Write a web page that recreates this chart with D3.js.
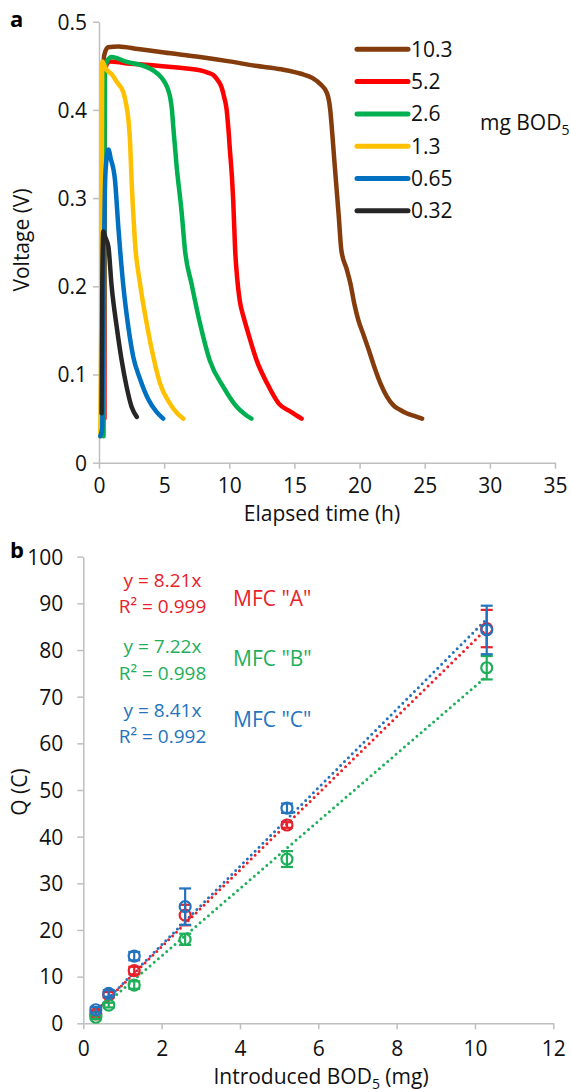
<!DOCTYPE html>
<html><head><meta charset="utf-8">
<script src="https://cdn.jsdelivr.net/npm/d3@7"></script>
<style>body{margin:0;background:#fff} svg{display:block} text{font-family:"Open Sans",sans-serif}</style>
</head><body>
<svg id="c" width="571" height="1092"></svg>
<script>
// ---------- Panel a data: voltage curves [time h, voltage V] ----------
const seriesNames = ["10.3", "5.2", "2.6", "1.3", "0.65", "0.32"];
const seriesColors = ["#843C0C", "#FF0000", "#00B050", "#FFC000", "#0070C0", "#262626"];
const curve_10_3 = [[0.3,0.10],[0.32,0.44],[0.4,0.462],[0.7,0.471],[1.5,0.472],[3,0.469],[5,0.465],[7.75,0.460],[10,0.455],[12,0.45],[14,0.446],[15.5,0.441],[16.4,0.436],[17.0,0.429],[17.5,0.419],[17.75,0.40],[17.9,0.374],[18.05,0.345],[18.2,0.317],[18.4,0.28],[18.6,0.241],[19.0,0.22],[19.3,0.203],[19.6,0.18],[19.9,0.162],[20.3,0.145],[20.7,0.128],[21.1,0.11],[21.6,0.09],[22.1,0.075],[22.6,0.065],[23.1,0.06],[23.6,0.056],[24.2,0.053],[24.8,0.05]];
const curve_5_2 = [[0.42,0.05],[0.45,0.44],[0.6,0.452],[0.84,0.455],[2,0.453],[3.9,0.451],[6,0.448],[7.75,0.445],[8.4,0.442],[8.77,0.4396],[9.1,0.434],[9.4,0.426],[9.6,0.415],[9.8,0.40],[9.95,0.375],[10.05,0.354],[10.2,0.325],[10.3,0.298],[10.45,0.241],[10.6,0.21],[10.8,0.184],[11.1,0.165],[11.45,0.147],[12.1,0.116],[12.9,0.09],[13.8,0.067],[14.7,0.058],[15.55,0.05]];
const curve_2_6 = [[0.35,0.03],[0.4,0.2],[0.45,0.44],[0.6,0.455],[0.97,0.46],[2,0.455],[3.9,0.447],[4.5,0.441],[4.93,0.434],[5.25,0.425],[5.45,0.415],[5.6,0.40],[5.7,0.381],[5.96,0.336],[6.35,0.283],[6.6,0.241],[7.1,0.203],[7.75,0.158],[8.5,0.116],[9.54,0.086],[10.57,0.0635],[11.2,0.055],[11.7,0.05]];
const curve_1_3 = [[0.1,0.03],[0.2,0.2],[0.25,0.455],[0.5,0.447],[1.0,0.44],[1.4,0.431],[1.87,0.42],[2.1,0.405],[2.25,0.39],[2.38,0.365],[2.5,0.32],[2.6,0.29],[2.76,0.25],[3.15,0.203],[3.66,0.158],[4.17,0.12],[4.68,0.09],[5.45,0.067],[6.0,0.056],[6.47,0.05]];
const curve_0_65 = [[0.1,0.03],[0.25,0.04],[0.35,0.2],[0.5,0.33],[0.72,0.355],[0.9,0.345],[1.23,0.32],[1.48,0.268],[1.6,0.245],[1.87,0.2],[2.25,0.154],[2.63,0.12],[3.15,0.095],[3.78,0.072],[4.4,0.058],[4.93,0.05]];
const curve_0_32 = [[0.2,0.056],[0.25,0.2],[0.33,0.262],[0.5,0.255],[0.72,0.245],[0.97,0.2],[1.36,0.154],[1.74,0.116],[2.12,0.086],[2.5,0.0635],[2.9,0.052]];
const curvesA = [curve_10_3, curve_5_2, curve_2_6, curve_1_3, curve_0_65, curve_0_32];
const timeTicks = [0,5,10,15,20,25,30,35];
const voltTicks = [0,0.1,0.2,0.3,0.4,0.5];

// ---------- Panel b data ----------
const bod = [0.32, 0.65, 1.3, 2.6, 5.2, 10.3];
const qA = [2.0, 6.1, 11.3, 23.2, 42.5, 84.6];
const qB = [1.3, 3.9, 8.2, 18.0, 35.2, 76.2];
const qC = [2.9, 6.4, 14.4, 25.0, 46.1, 84.3];
const errA = [0.6, 0.6, 0.8, 2.2, 0.6, 4.0];
const errB = [0.4, 0.5, 0.8, 1.2, 1.7, 2.5];
const errC = [0.6, 0.7, 0.9, 3.9, 1.0, 5.2];
const slopes = [8.21, 7.22, 8.41];
const r2 = ["0.999", "0.998", "0.992"];
const mfcNames = ['MFC "A"', 'MFC "B"', 'MFC "C"'];
const mfcColors = ["#E8212A", "#1FAF5A", "#2473BE"];
const bodTicks = [0,2,4,6,8,10,12];
const qTicks = [0,10,20,30,40,50,60,70,80,90,100];

const svg = d3.select("#c");
const AX = "#BFBFBF", FS = 21, FE = 19;

function styleAxis(g){
  g.select(".domain").attr("stroke", AX).attr("stroke-width", 1.5);
  g.selectAll(".tick line").attr("stroke", AX).attr("stroke-width", 1.5);
  g.selectAll(".tick text").attr("fill", "#111").style("font-size", FS + "px").style("font-family", '"Open Sans",sans-serif');
}

// ================= Panel a =================
const xA = d3.scaleLinear([0, 35], [99, 555]);
const yA = d3.scaleLinear([0, 0.5], [462.7, 21.7]);

const gxA = svg.append("g").attr("transform", `translate(0,${yA(0)})`)
  .call(d3.axisBottom(xA).tickValues(timeTicks).tickSize(6).tickSizeOuter(0).tickFormat(d3.format("d")));
styleAxis(gxA);
gxA.selectAll(".tick text").attr("y", 23).attr("dy", "0.35em");

const gyA = svg.append("g").attr("transform", `translate(${xA(0)},0)`)
  .call(d3.axisLeft(yA).tickValues(voltTicks).tickSize(6).tickSizeOuter(0).tickFormat(d => d === 0 ? "0" : d3.format(".1f")(d)));
styleAxis(gyA);
gyA.selectAll(".tick text").attr("x", -12).attr("dy", "0.35em");

const lineA = d3.line().x(d => xA(d[0])).y(d => yA(d[1])).curve(d3.curveMonotoneX);
svg.append("g").selectAll("path").data(curvesA).join("path")
  .attr("d", lineA).attr("fill", "none")
  .attr("stroke", (d, i) => seriesColors[i]).attr("stroke-width", 4.5)
  .attr("stroke-linecap", "round").attr("stroke-linejoin", "round");

// legend
const leg = svg.append("g");
seriesNames.forEach((n, i) => {
  const yy = 49.3 + i * 32.3;
  leg.append("line").attr("x1", 357).attr("x2", 408).attr("y1", yy).attr("y2", yy)
    .attr("stroke", seriesColors[i]).attr("stroke-width", 5).attr("stroke-linecap", "round");
  leg.append("text").attr("x", 411).attr("y", yy).attr("dy", "0.35em")
    .style("font-size", FS + "px").attr("fill", "#111").text(n);
});
const mg = svg.append("text").attr("x", 480).attr("y", 123).attr("dy", "0.35em").style("font-size", FS + "px").attr("fill", "#111");
mg.append("tspan").text("mg BOD");
mg.append("tspan").text("5").style("font-size", "14px").attr("dy", 5);

svg.append("text").attr("transform", "translate(22,240) rotate(-90)").attr("text-anchor", "middle").attr("dy", "0.35em")
  .style("font-size", FS + "px").attr("fill", "#111").text("Voltage (V)");
svg.append("text").attr("x", 322).attr("y", 514).attr("text-anchor", "middle").attr("dy", "0.35em")
  .style("font-size", FS + "px").attr("fill", "#111").text("Elapsed time (h)");
svg.append("text").attr("x", 10).attr("y", 19).attr("dy", "0.35em").style("font-size", "22px").style("font-weight", "bold").attr("fill", "#000").text("a");

// ================= Panel b =================
const xB = d3.scaleLinear([0, 12], [83.3, 553.3]);
const yB = d3.scaleLinear([0, 100], [1023.3, 556.7]);

const gxB = svg.append("g").attr("transform", `translate(0,${yB(0)})`)
  .call(d3.axisBottom(xB).tickValues(bodTicks).tickSize(6).tickSizeOuter(0).tickFormat(d3.format("d")));
styleAxis(gxB);
gxB.selectAll(".tick text").attr("y", 25).attr("dy", "0.35em");

const gyB = svg.append("g").attr("transform", `translate(${xB(0)},0)`)
  .call(d3.axisLeft(yB).tickValues(qTicks).tickSize(6).tickSizeOuter(0).tickFormat(d3.format("d")));
styleAxis(gyB);
gyB.selectAll(".tick text").attr("x", -20).attr("dy", "0.35em");

const qSeries = [qA, qB, qC];
const eSeries = [errA, errB, errC];

// trend lines (dotted)
const trendOrder = [1, 2, 0];
trendOrder.forEach(k => {
  const x0 = d3.min(bod), x1 = d3.max(bod);
  svg.append("line").attr("x1", xB(x0)).attr("y1", yB(slopes[k] * x0)).attr("x2", xB(x1)).attr("y2", yB(slopes[k] * x1))
    .attr("stroke", mfcColors[k]).attr("stroke-width", 3).attr("stroke-linecap", "round")
    .attr("stroke-dasharray", "0 5.5").attr("stroke-dashoffset", k === 0 ? 2.7 : 0);
});

// points + error bars
[0, 1, 2].forEach(k => {
  const g = svg.append("g").attr("stroke", mfcColors[k]).attr("fill", "none").attr("stroke-width", 2.2);
  bod.forEach((b, i) => {
    const cx = xB(b), v = qSeries[k][i], e = eSeries[k][i];
    g.append("line").attr("x1", cx).attr("x2", cx).attr("y1", yB(v - e)).attr("y2", yB(v + e));
    g.append("line").attr("x1", cx - 6).attr("x2", cx + 6).attr("y1", yB(v - e)).attr("y2", yB(v - e));
    g.append("line").attr("x1", cx - 6).attr("x2", cx + 6).attr("y1", yB(v + e)).attr("y2", yB(v + e));
    g.append("circle").attr("cx", cx).attr("cy", yB(v)).attr("r", 5.5);
  });
});

// equations
const eqY = [[580, 606.5], [646.5, 673], [710, 736.5]];
const mfcY = [598.3, 658.3, 720];
[0, 1, 2].forEach(k => {
  svg.append("text").attr("x", 162.5).attr("y", eqY[k][0]).attr("dy", "0.35em").attr("text-anchor", "middle")
    .style("font-size", FE + "px").attr("fill", mfcColors[k]).text(`y = ${slopes[k].toFixed(2)}x`);
  svg.append("text").attr("x", 162.5).attr("y", eqY[k][1]).attr("dy", "0.35em").attr("text-anchor", "middle")
    .style("font-size", FE + "px").attr("fill", mfcColors[k]).text(`R² = ${r2[k]}`);
  svg.append("text").attr("x", 233).attr("y", mfcY[k]).attr("dy", "0.35em")
    .style("font-size", FS + "px").attr("fill", mfcColors[k]).text(mfcNames[k]);
});

svg.append("text").attr("transform", "translate(20,792) rotate(-90)").attr("text-anchor", "middle").attr("dy", "0.35em")
  .style("font-size", FS + "px").attr("fill", "#111").text("Q (C)");
const xl = svg.append("text").attr("x", 321).attr("y", 1077).attr("text-anchor", "middle").attr("dy", "0.35em")
  .style("font-size", FS + "px").attr("fill", "#111");
xl.append("tspan").text("Introduced BOD");
xl.append("tspan").text("5").style("font-size", "14px").attr("dy", 5);
xl.append("tspan").text(" (mg)").attr("dy", -5);
svg.append("text").attr("x", 10).attr("y", 550).attr("dy", "0.35em").style("font-size", "22px").style("font-weight", "bold").attr("fill", "#000").text("b");
</script>
</body></html>
